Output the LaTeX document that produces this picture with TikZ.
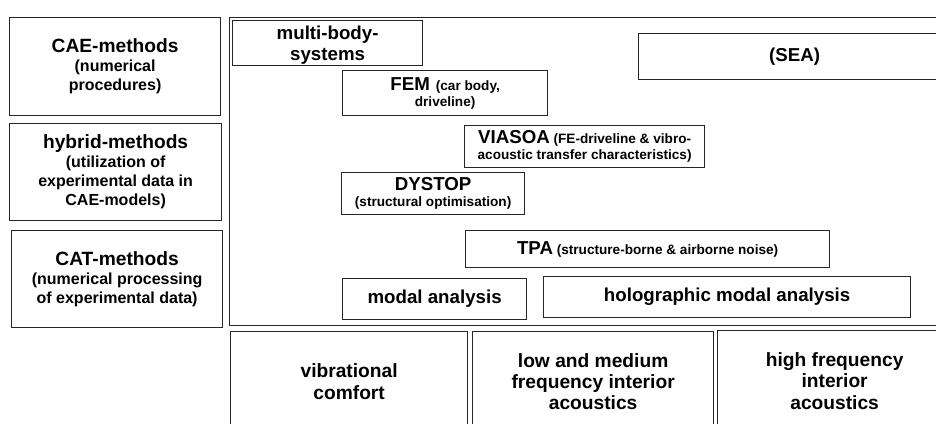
\documentclass[tikz,border=0pt]{standalone}
\usepackage{fontspec}
\setmainfont{Liberation Sans}
\newcommand\bigword[1]{{\fontsize{18.7}{18.7}\selectfont #1}}
\begin{document}
\begin{tikzpicture}[x=1pt,y=-1pt,
  box/.style={draw=black!85, line width=1.25pt, rectangle, inner sep=0pt, align=center,
    anchor=north west, font=\bfseries\fontsize{18.7}{21}\selectfont},
  sidebox/.style={box, font=\bfseries\fontsize{16}{19}\selectfont},
  smallbox/.style={box, font=\bfseries\fontsize{13.6}{16}\selectfont},
  lowbox/.style={box, font=\bfseries\fontsize{19.2}{21.3}\selectfont}]
\useasboundingbox (0,0) rectangle (936,423);
\clip (0,0) rectangle (936,423);
% left column
\node[sidebox, minimum width=211pt, minimum height=98pt] (cae) at (9,17)
  {{\fontsize{19.2}{19}\selectfont CAE-methods}\\(numerical\\procedures)};
\node[sidebox, minimum width=212pt, minimum height=97pt] (hyb) at (9,123)
  {{\fontsize{19.2}{19}\selectfont hybrid-methods}\\(utilization of\\experimental data in\\CAE-models)};
\node[sidebox, minimum width=211pt, minimum height=97pt] (cat) at (11,230)
  {{\fontsize{19.2}{19}\selectfont CAT-methods}\\(numerical processing\\of experimental data)};
% container
\node[draw=black!85, line width=1.25pt, rectangle, inner sep=0pt, anchor=north west,
  minimum width=720pt, minimum height=308pt] (cont) at (229,17) {};
% inner boxes
\node[box, text depth=0pt, minimum width=190pt, minimum height=45pt, font=\bfseries\fontsize{18.7}{20.5}\selectfont] (mbs) at (232,20) {multi-body-\\systems};
\node[smallbox, minimum width=205pt, minimum height=45pt] (fem) at (342,70)
  {\bigword{FEM}\, (car body,\\driveline)};
\node[box, minimum width=312pt, minimum height=46pt] (sea) at (638,33) {(SEA)};
\node[smallbox, minimum width=240pt, minimum height=42pt] (via) at (464,125)
  {\bigword{VIASOA} (FE-driveline \& vibro-\\acoustic transfer characteristics)};
\node[smallbox, minimum width=183pt, minimum height=42pt] (dys) at (341,172)
  {\bigword{DYSTOP}\\(structural optimisation)};
\node[smallbox, minimum width=364pt, minimum height=37pt] (tpa) at (465,230)
  {\bigword{TPA} (structure-borne \& airborne noise)};
\node[box, minimum width=184pt, minimum height=41pt] (modal) at (342,278) {modal analysis};
\node[box, minimum width=367pt, minimum height=41pt] (holo) at (543,276) {holographic modal analysis};
% bottom row
\node[lowbox, minimum width=237pt, minimum height=100pt] (vib) at (230,331) {vibrational\\comfort};
\node[lowbox, minimum width=241pt, minimum height=100pt] (low) at (472,331)
  {low and medium\\frequency interior\\acoustics};
\node[lowbox, minimum width=234pt, minimum height=101pt] (high) at (717,330)
  {high frequency\\interior\\acoustics};
\end{tikzpicture}
\end{document}
